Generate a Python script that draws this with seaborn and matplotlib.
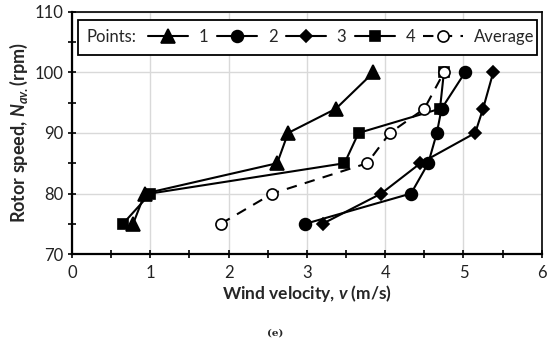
import matplotlib
matplotlib.use("Agg")
import matplotlib.pyplot as plt
import seaborn as sns
import pandas as pd
from matplotlib.patches import Rectangle
from matplotlib.ticker import MultipleLocator

# rotor speed levels (rpm)
speed = [75, 80, 85, 90, 94, 100]

# wind velocity (m/s) per measuring point
v_p1 = [0.78, 0.93, 2.62, 2.76, 3.37, 3.85]
v_p2 = [2.98, 4.33, 4.55, 4.66, 4.72, 5.02]
v_p3 = [3.20, 3.95, 4.45, 5.15, 5.25, 5.38]
v_p4 = [0.65, 1.00, 3.48, 3.66, 4.70, 4.75]
v_avg = [1.90, 2.56, 3.77, 4.06, 4.50, 4.75]

labels = ["1", "2", "3", "4", "Average"]
series = [v_p1, v_p2, v_p3, v_p4, v_avg]
markers = ["^", "o", "D", "s", "o"]
msizes = [9.5, 8.5, 6.5, 7.5, 8]

sns.set_theme(style="white")
plt.rcParams["font.family"] = ["Lato", "DejaVu Sans"]
plt.rcParams["mathtext.fontset"] = "custom"
plt.rcParams["mathtext.it"] = "Lato:bold:italic"
plt.rcParams["mathtext.rm"] = "Lato:bold"

fig = plt.figure(figsize=(5.5, 3.49), dpi=100)
ax = fig.add_axes([0.131, 0.272, 0.854, 0.694])

handles = []
for lab, vals, m, ms in zip(labels, series, markers, msizes):
    df = pd.DataFrame({"v": vals, "n": speed})
    is_avg = lab == "Average"
    sns.lineplot(data=df, x="v", y="n", sort=False, estimator=None, ax=ax,
                 color="black", lw=1.5, ls="-", marker=m, ms=ms,
                 mfc="white" if is_avg else "black", mec="black",
                 mew=1.2, zorder=3)
    line = ax.lines[-1]
    if is_avg:
        line.set_dashes([5, 4])
    handles.append(line)

ax.set_xlim(0, 6)
ax.set_ylim(70, 110)
ax.xaxis.set_major_locator(MultipleLocator(1))
ax.xaxis.set_minor_locator(MultipleLocator(0.5))
ax.yaxis.set_major_locator(MultipleLocator(10))
ax.yaxis.set_minor_locator(MultipleLocator(5))
ax.grid(True, which="major", color="#d9d9d9", lw=1)
ax.tick_params(which="both", direction="inout", length=6, width=1.2,
               color="black", labelsize=12, labelcolor="#222222",
               bottom=True, left=True)
ax.tick_params(axis="x", pad=5)
for s in ax.spines.values():
    s.set_color("black")
    s.set_linewidth(1.2)
ax.spines["left"].set_linewidth(1.6)
ax.spines["bottom"].set_linewidth(1.6)

ax.set_xlabel(r"Wind velocity, $v$ (m/s)", fontsize=12.5, fontweight="bold", labelpad=1)
ax.set_ylabel(r"Rotor speed, $N_{av.}$(rpm)", fontsize=13, fontweight="bold", labelpad=3)

# legend box with the "Points:" lead-in
ax.add_patch(Rectangle((0.013, 0.822), 0.976, 0.145, transform=ax.transAxes,
                       fill=True, fc="white", ec="black", lw=1.3, zorder=5))
ax.text(0.03, 0.895, "Points:", transform=ax.transAxes, ha="left", va="center",
        fontsize=12, zorder=6)
leg = ax.legend(handles, labels, loc="center left", bbox_to_anchor=(0.148, 0.895),
                ncol=5, frameon=False, fontsize=12, handlelength=2.4,
                handletextpad=0.65, columnspacing=0.5, borderaxespad=0)
leg.set_zorder(6)

fig.text(0.5, 0.045, "(e)", ha="center", va="center", fontsize=7.5,
         fontweight="bold", family="DejaVu Serif")

fig.savefig("out.png", dpi=100)
